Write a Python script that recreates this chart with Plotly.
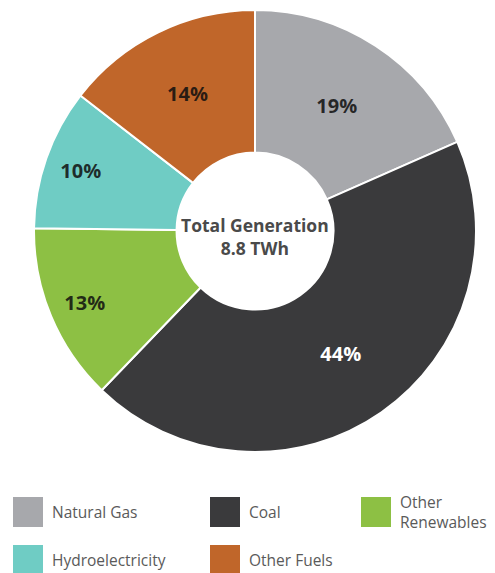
import plotly.graph_objects as go

labels = ["Natural Gas", "Coal", "Other Renewables", "Hydroelectricity", "Other Fuels"]
legend_text = ["Natural Gas", "Coal", "Other<br>Renewables", "Hydroelectricity", "Other Fuels"]
values = [18.4, 43.8, 13.0, 10.3, 14.5]          # slice sizes as drawn
pct_labels = ["19%", "44%", "13%", "10%", "14%"]  # printed labels
colors = ["#A7A8AC", "#3A3A3C", "#8DC044", "#6FCCC4", "#C0662A"]
text_colors = ["rgba(15,15,15,0.85)", "#ffffff", "rgba(15,15,15,0.85)", "rgba(15,15,15,0.85)", "rgba(15,15,15,0.85)"]
outer_text = [False, False, True, True, False]    # labels sitting nearer the rim
center_title = "Total Generation<br>8.8 TWh"

W, H = 495, 573
FONT = "Open Sans"
dom = dict(x=[34 / W, 476 / W], y=[1 - 452 / H, 1 - 10 / H])

fig = go.Figure()
fig.add_trace(go.Pie(
    labels=labels, values=values, sort=False, direction="clockwise", rotation=0,
    hole=0.355,
    marker=dict(colors=colors, line=dict(color="white", width=2)),
    text=[t if not o else "" for t, o in zip(pct_labels, outer_text)],
    textinfo="text", textposition="inside", insidetextorientation="horizontal",
    textfont=dict(family=FONT, size=20, color=text_colors, weight="bold"),
    domain=dom, showlegend=False, hoverinfo="label+percent",
))
# transparent overlay ring carrying the labels of the narrow slices
fig.add_trace(go.Pie(
    labels=labels, values=values, sort=False, direction="clockwise", rotation=0,
    hole=0.67,
    marker=dict(colors=["rgba(0,0,0,0)"] * len(values), line=dict(width=0)),
    text=[t if o else "" for t, o in zip(pct_labels, outer_text)],
    textinfo="text", textposition="inside", insidetextorientation="horizontal",
    textfont=dict(family=FONT, size=20, color=text_colors, weight="bold"),
    domain=dom, showlegend=False, hoverinfo="skip",
))

annotations = [dict(text=center_title, x=255 / W, y=1 - 236 / H, xref="paper", yref="paper",
                    showarrow=False, font=dict(family=FONT, size=17.5, color="#4a4a4a", weight="bold"),
                    align="center")]
shapes = []
col_x = [13, 210, 361]
row_y = [497, 545]
for i, (lt, c) in enumerate(zip(legend_text, colors)):
    r, k = divmod(i, 3)
    x0, y0 = col_x[k], row_y[r]
    shapes.append(dict(type="rect", xref="paper", yref="paper",
                       x0=x0 / W, x1=(x0 + 30) / W, y0=1 - (y0 + 30) / H, y1=1 - y0 / H,
                       fillcolor=c, line=dict(width=0)))
    annotations.append(dict(text=lt, x=(x0 + 38) / W, y=1 - (y0 + 15) / H, xref="paper", yref="paper",
                            xanchor="left", yanchor="middle", showarrow=False, align="left",
                            borderpad=0,
                            font=dict(family=FONT, size=15.5, color="#5a5a5a")))

fig.update_layout(width=W, height=H, margin=dict(l=0, r=0, t=0, b=0),
                  paper_bgcolor="white", plot_bgcolor="white",
                  annotations=annotations, shapes=shapes)
fig.write_html("out.html")
